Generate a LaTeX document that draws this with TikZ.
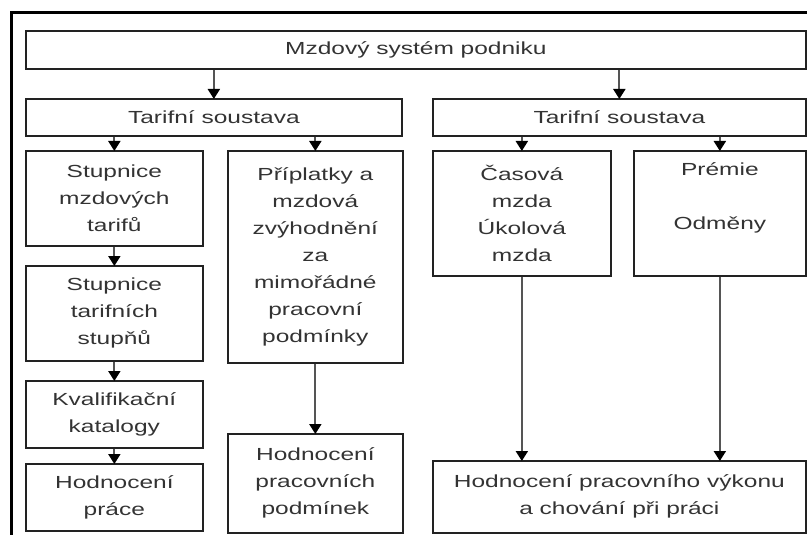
\documentclass[tikz,border=0pt]{standalone}
\usepackage{fontspec}
\setmainfont{Liberation Sans}[FakeStretch=1.4]
\usetikzlibrary{arrows.meta}
\definecolor{txt}{HTML}{333333}
\definecolor{edge}{HTML}{222222}
\definecolor{lnk}{HTML}{555555}
\tikzset{
  box/.style={draw=edge, line width=1.7pt, anchor=north west, inner sep=0pt,
    align=center, text=txt, font=\fontsize{17.5}{27}\selectfont},
  arr/.style={draw=lnk, line width=2pt, -{Triangle[length=10pt,width=12pt,color=black]}, shorten >=-1pt}
}
\begin{document}
\begin{tikzpicture}[x=1pt,y=-1pt]
\useasboundingbox (0,0) rectangle (807,535);
\draw[line width=3pt, black] (11,535) -- (11,13) -- (807,13);

\node[box, minimum width=780pt, minimum height=38pt] (top) at (25,30) {Mzdový systém podniku};
\node[box, minimum width=376pt, minimum height=37pt] (tarL) at (25,98) {Tarifní soustava};
\node[box, minimum width=373pt, minimum height=37pt] (tarR) at (432,98) {Tarifní soustava};

\node[box, minimum width=177pt, minimum height=95pt] (stup1) at (25,150) {Stupnice\\mzdových\\tarifů};
\node[box, minimum width=177pt, minimum height=95pt] (stup2) at (25,265) {Stupnice\\tarifních\\stupňů};
\node[box, minimum width=177pt, minimum height=67pt] (kval) at (25,380) {Kvalifikační\\katalogy};
\node[box, minimum width=177pt, minimum height=67pt] (hodP) at (25,463) {Hodnocení\\práce};

\node[box, minimum width=175pt, minimum height=212pt] (pripl) at (227,150) {Příplatky a\\mzdová\\zvýhodnění\\za\\mimořádné\\pracovní\\podmínky};
\node[box, minimum width=175pt, minimum height=99pt] (hodPP) at (227,433) {Hodnocení\\pracovních\\podmínek};

\node[box, minimum width=178pt, minimum height=125pt] (cas) at (432,150) {Časová\\mzda\\Úkolová\\mzda};
\node[box, minimum width=172pt, minimum height=125pt] (prem) at (633,150) {Prémie\\\strut\\Odměny\\\strut};
\node[box, minimum width=373pt, minimum height=72pt] (hodV) at (432,460) {Hodnocení pracovního výkonu\\a chování při práci};

\draw[arr] (top.south -| tarL.north) -- (tarL.north);
\draw[arr] (top.south -| tarR.north) -- (tarR.north);
\draw[arr] (tarL.south -| stup1.north) -- (stup1.north);
\draw[arr] (tarL.south -| pripl.north) -- (pripl.north);
\draw[arr] (stup1.south) -- (stup2.north);
\draw[arr] (stup2.south) -- (kval.north);
\draw[arr] (kval.south) -- (hodP.north);
\draw[arr] (pripl.south) -- (hodPP.north);
\draw[arr] (tarR.south -| cas.north) -- (cas.north);
\draw[arr] (tarR.south -| prem.north) -- (prem.north);
\draw[arr] (cas.south) -- (hodV.north -| cas.south);
\draw[arr] (prem.south) -- (hodV.north -| prem.south);
\end{tikzpicture}
\end{document}
